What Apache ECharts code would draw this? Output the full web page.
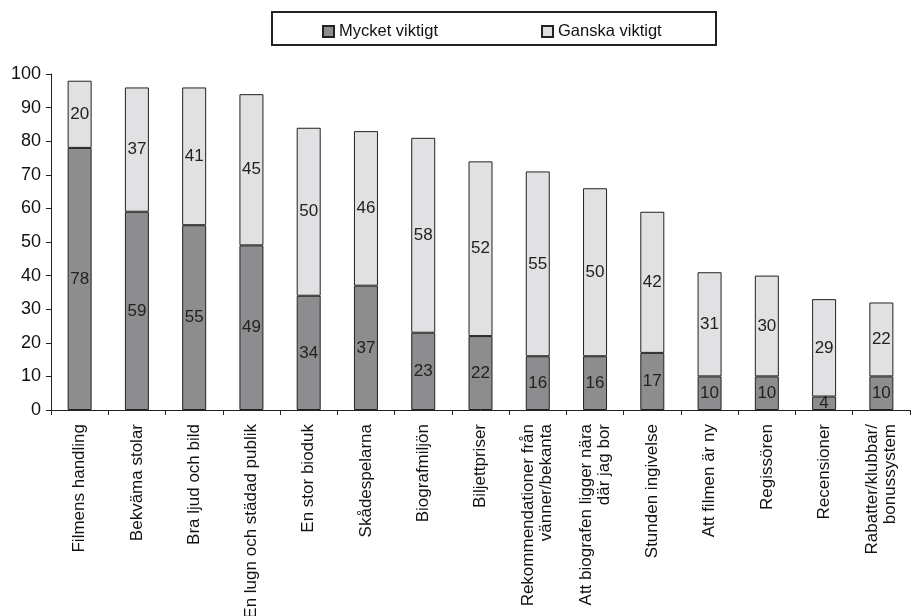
<!DOCTYPE html>
<html><head><meta charset="utf-8">
<script src="https://cdn.jsdelivr.net/npm/echarts@6/dist/echarts.min.js"></script>
<style>html,body{margin:0;padding:0;background:#fff}#c{width:911px;height:616px}</style>
</head><body><div id="c"></div>
<script>
const categories = ["Filmens handling","Bekväma stolar","Bra ljud och bild","En lugn och städad publik","En stor bioduk","Skådespelarna","Biografmiljön","Biljettpriser","Rekommendationer från\nvänner/bekanta","Att biografen ligger nära\ndär jag bor","Stunden ingivelse","Att filmen är ny","Regissören","Recensioner","Rabatter/klubbar/\nbonussystem"];
const mycketViktigt = [78,59,55,49,34,37,23,22,16,16,17,10,10,4,10];
const ganskaViktigt = [20,37,41,45,50,46,58,52,55,50,42,31,30,29,22];
const seriesNames = ["Mycket viktigt","Ganska viktigt"];
const yTicks = {min:0,max:100,interval:10};

const font = "Liberation Sans, Arial, sans-serif";
const chart = echarts.init(document.getElementById('c'), null, {renderer:'canvas'});
const lbl = {show:true, position:'inside', color:'#222', fontSize:17, fontFamily:font};
chart.setOption({
  animation:false,
  backgroundColor:'#fff',
  graphic:[{type:'rect', shape:{x:272,y:12,width:444,height:33}, style:{fill:'none', stroke:'#222', lineWidth:2}}],
  legend:{left:317, top:18, itemWidth:11, itemHeight:11, itemGap:103, icon:'rect',
    textStyle:{fontSize:16.5, fontFamily:font, color:'#111'}, data:seriesNames},
  grid:{left:51, right:1, top:74, bottom:206, containLabel:false, outerBoundsMode:'none'},
  xAxis:{type:'category', data:categories,
    axisLine:{lineStyle:{color:'#222', width:1}},
    axisTick:{show:true, length:5, lineStyle:{color:'#222'}},
    axisLabel:{rotate:90, interval:0, fontSize:17, fontFamily:font, color:'#111', margin:14, lineHeight:18}},
  yAxis:{type:'value', min:yTicks.min, max:yTicks.max, interval:yTicks.interval,
    splitLine:{show:false},
    axisLine:{show:true, lineStyle:{color:'#222'}},
    axisTick:{show:true, length:5, lineStyle:{color:'#222'}},
    axisLabel:{fontSize:18, fontFamily:font, color:'#111', margin:10}},
  series:[
    {name:seriesNames[0], type:'bar', stack:'s', data:mycketViktigt, barWidth:24,
     itemStyle:{color:'#8d8d90', borderColor:'#222', borderWidth:1}, label:lbl},
    {name:seriesNames[1], type:'bar', stack:'s', data:ganskaViktigt, barWidth:24,
     itemStyle:{color:'#e1e1e3', borderColor:'#222', borderWidth:1}, label:lbl}
  ]
});
</script></body></html>
